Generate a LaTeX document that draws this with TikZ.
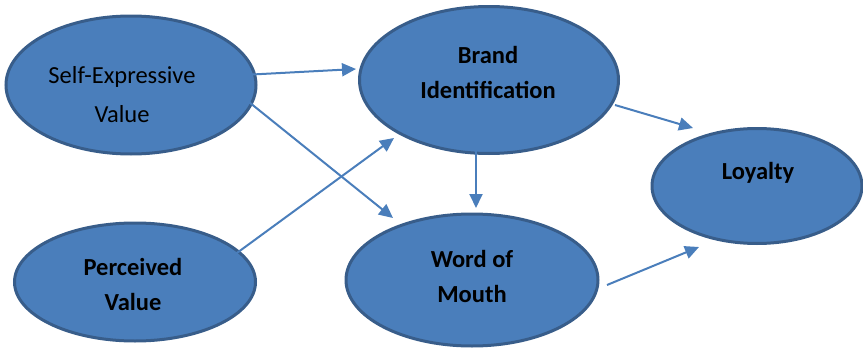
\documentclass[tikz,border=0pt]{standalone}
\usepackage{fontspec}
\setmainfont{Carlito}
\usetikzlibrary{shapes.geometric,arrows.meta}
\definecolor{efill}{RGB}{74,126,187}
\definecolor{edraw}{RGB}{56,93,138}
\definecolor{aline}{RGB}{74,126,187}
\tikzset{
  oval/.style={ellipse, fill=efill, draw=edraw, line width=3pt, inner sep=0pt},
  lbl/.style={anchor=base, inner sep=0pt, font=\fontsize{24.5}{29}\selectfont},
  blbl/.style={lbl, font=\fontsize{24.5}{29}\selectfont\bfseries},
  conn/.style={draw=aline, line width=2pt, -{Triangle[length=14pt,width=13pt]}}
}
\begin{document}
\begin{tikzpicture}[x=1pt,y=-1pt]
\useasboundingbox (0,0) rectangle (863,348);
% ellipses
\node[oval, minimum width=250pt, minimum height=138pt] (se) at (131,85) {};
\node[oval, minimum width=259pt, minimum height=147pt] (bi) at (489,80) {};
\node[oval, minimum width=241pt, minimum height=118pt] (pv) at (135,282) {};
\node[oval, minimum width=252pt, minimum height=132pt] (wm) at (472,280) {};
\node[oval, minimum width=210pt, minimum height=115pt] (ly) at (757,186) {};
% labels
\node[lbl] (se1) at (122,83) {Self-Expressive};
\node[lbl] (se2) at (122,122) {Value};
\node[blbl] (bi1) at (488,63) {Brand};
\node[blbl] (bi2) at (488,98) {Identification};
\node[blbl] (pv1) at (133,275) {Perceived};
\node[blbl] (pv2) at (133,310) {Value};
\node[blbl] (wm1) at (472,267) {Word of};
\node[blbl] (wm2) at (472,302) {Mouth};
\node[blbl] (ly1) at (758,179) {Loyalty};
% connector end points
\coordinate (a1s) at (205,77);  \coordinate (a1e) at (356,69);
\coordinate (a2s) at (234,90);  \coordinate (a2e) at (393,218);
\coordinate (a3s) at (200,280); \coordinate (a3e) at (394,138);
\coordinate (a4s) at (476,151); \coordinate (a4e) at (476,208);
\coordinate (a5s) at (615,105); \coordinate (a5e) at (693,128);
\coordinate (a6s) at (607,285); \coordinate (a6e) at (699,247);
% connectors
\draw[conn] (a1s) -- (a1e);
\draw[conn] (a2s) -- (a2e);
\draw[conn] (a3s) -- (a3e);
\draw[conn] (a4s) -- (a4e);
\draw[conn] (a5s) -- (a5e);
\draw[conn] (a6s) -- (a6e);
\end{tikzpicture}
\end{document}
